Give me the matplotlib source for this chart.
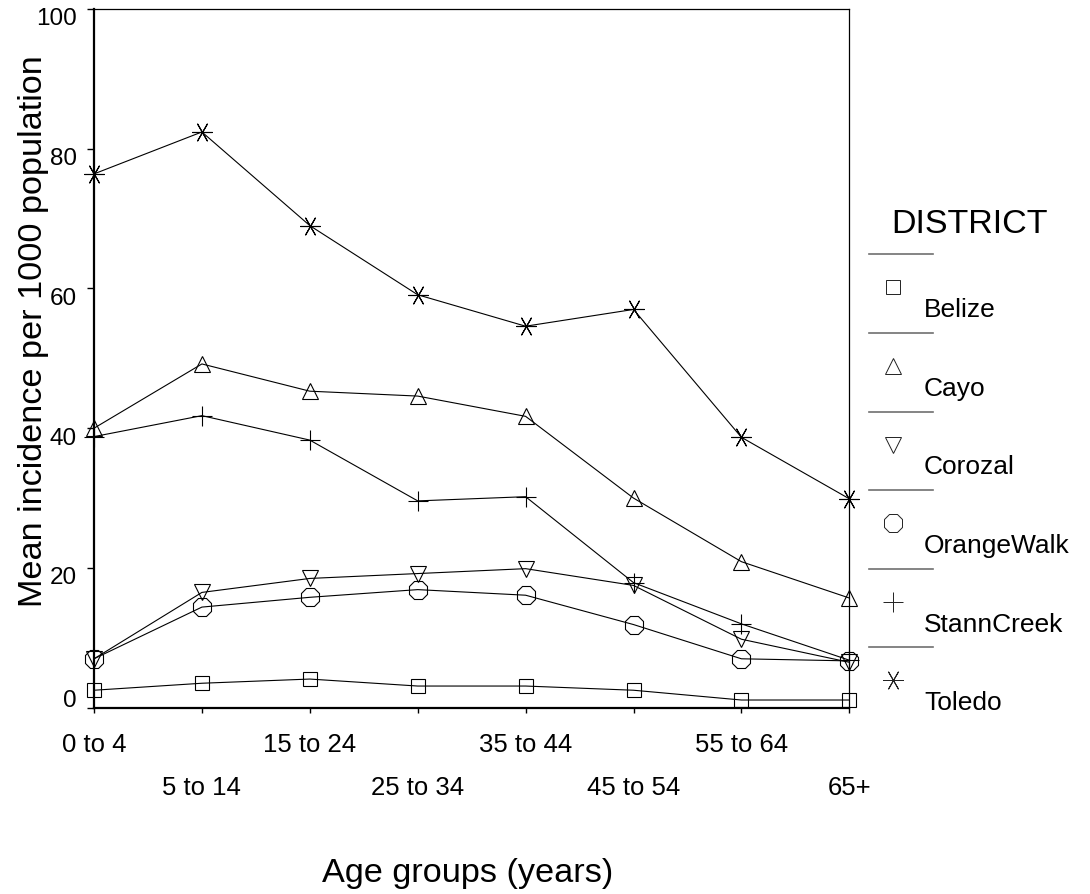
import matplotlib
matplotlib.use("Agg")
import matplotlib.pyplot as plt
import matplotlib.transforms as mtransforms

plt.rcParams['font.family'] = ['Liberation Sans', 'DejaVu Sans']

# data
age_groups = ['0 to 4', '5 to 14', '15 to 24', '25 to 34',
              '35 to 44', '45 to 54', '55 to 64', '65+']
belize = [2.5, 3.5, 4.1, 3.1, 3.1, 2.5, 1.1, 1.1]
cayo = [40.0, 49.2, 45.3, 44.6, 41.7, 30.0, 20.9, 15.7]
corozal = [7.0, 16.5, 18.5, 19.2, 19.9, 17.5, 9.8, 6.5]
orange_walk = [7.0, 14.4, 15.8, 16.9, 16.1, 11.9, 7.0, 6.7]
stann_creek = [38.8, 41.8, 38.3, 29.6, 30.2, 17.9, 12.0, 6.8]
toledo = [76.4, 82.4, 69.0, 59.1, 54.6, 57.0, 38.7, 29.9]
districts = ['Belize', 'Cayo', 'Corozal', 'OrangeWalk', 'StannCreek', 'Toledo']
yticks = [0, 20, 40, 60, 80, 100]

series = [belize, cayo, corozal, orange_walk, stann_creek, toledo]
markers = ['s', '^', 'v', '8', '+', (6, 2, 90)]
msizes = [10.6, 11.5, 11.5, 14.8, 14, 14.5]

W, H = 1090, 894
fig = plt.figure(figsize=(W/100, H/100), dpi=100)
ax = fig.add_axes([94/W, 1-707.7/H, (849.3-94)/W, (707.7-9)/H])

x = list(range(len(age_groups)))
for vals, m, ms in zip(series, markers, msizes):
    ax.plot(x, vals, color='black', lw=0.8, marker=m, ms=ms,
            mfc='none', mec='black', mew=0.8, clip_on=False)

ax.set_xlim(0, len(age_groups)-1)
ax.set_ylim(0, 100)
ax.set_xticks(x, age_groups)
ax.set_yticks(yticks)
ax.tick_params(axis='x', direction='out', length=3.6, width=1, labelsize=18.5)
ax.tick_params(axis='y', direction='out', length=5, width=1, pad=7.2, labelsize=17.5)
for i, t in enumerate(ax.xaxis.get_major_ticks()):
    t.set_pad(14.8 if i % 2 == 0 else 45.6)
for val, t in zip(yticks, ax.yaxis.get_major_ticks()):
    dy = 9 if val == 0 else -8
    t.label1.set_transform(t.label1.get_transform() +
                           mtransforms.ScaledTranslation(0, dy/100, fig.dpi_scale_trans))

for s in ['left', 'bottom']:
    ax.spines[s].set_linewidth(1.6)
for s in ['top', 'right']:
    ax.spines[s].set_linewidth(0.9)

ax.set_ylabel('Mean incidence per 1000 population', fontsize=24.7)
ax.yaxis.set_label_coords(-0.0596, 0.539)
ax.set_xlabel('Age groups (years)', fontsize=24.7)
ax.xaxis.set_label_coords(0.495, -0.215)

# legend, drawn by hand in pixel space
lax = fig.add_axes([0, 0, 1, 1])
lax.set_xlim(0, W)
lax.set_ylim(H, 0)
lax.axis('off')
lax.text(969, 233.3, 'DISTRICT', ha='center', va='baseline', fontsize=24.5)
for i, (name, m, ms) in enumerate(zip(districts, markers, msizes)):
    yl = 254.3 + i*78.6
    lax.plot([869, 933], [yl, yl], color='#707070', lw=1.2)
    lax.plot([893], [yl+33], marker=m, ms=ms, mfc='none', mec='#222222', mew=0.7)
    lax.text(924, yl+63, name, ha='left', va='baseline', fontsize=19)

fig.savefig('out.png', dpi=100)
